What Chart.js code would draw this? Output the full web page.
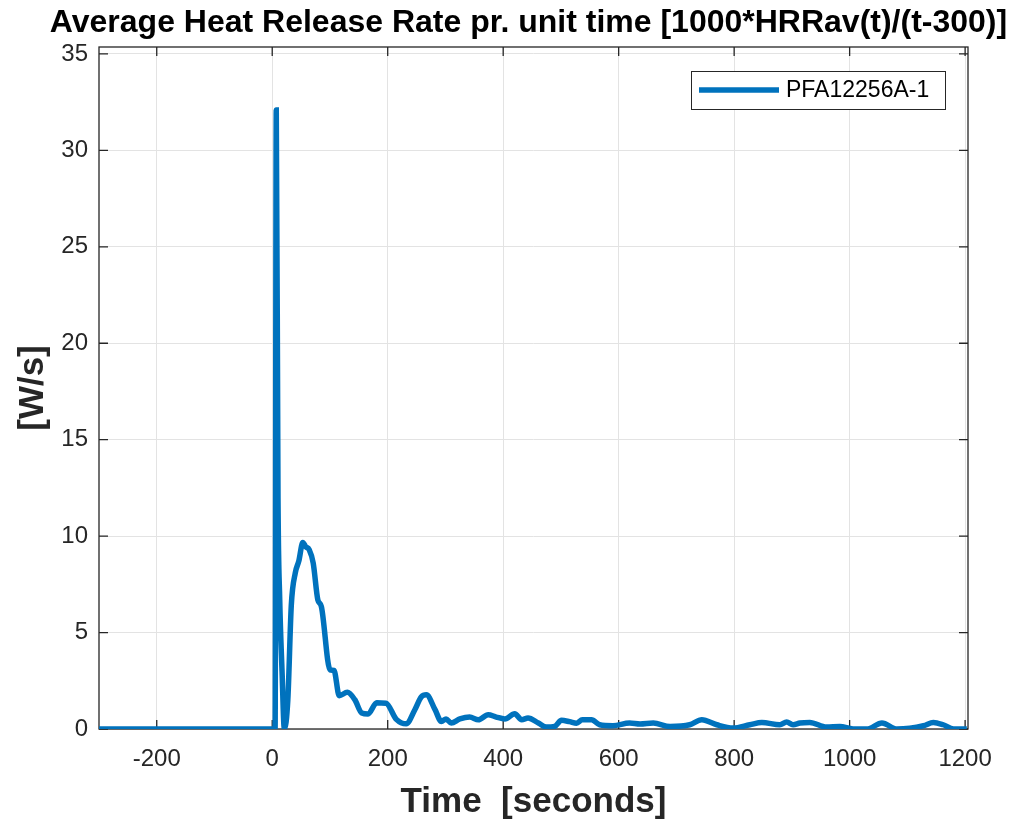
<!DOCTYPE html>
<html>
<head>
<meta charset="utf-8">
<title>Average Heat Release Rate</title>
<script src="https://cdn.jsdelivr.net/npm/chart.js@4.4.1/dist/chart.umd.min.js"></script>
<style>
  html, body { margin: 0; padding: 0; background: #fff; }
  #wrap { position: relative; width: 1014px; height: 824px; }
</style>
</head>
<body>
<div id="wrap"><canvas id="hrrChart"></canvas></div>
<script>
const chartTitle = 'Average Heat Release Rate pr. unit time [1000*HRRav(t)/(t-300)]'
const seriesLabel = 'PFA12256A-1'

// time [s] and HRR per unit time [W/s]
const timeSec = [
  -300, 5, 7, 10, 13, 17, 21, 27, 33, 40, 46, 53, 58, 64, 71, 79, 85, 100, 107, 116,
  130, 143, 155, 166, 181, 197, 215, 232, 247, 258, 267, 282, 293, 301, 310, 325,
  342, 357, 374, 388, 403, 420, 432, 443, 461, 475, 489, 501, 515, 527, 537, 553,
  567, 590, 619, 637, 660, 689, 723, 744, 770, 798, 827, 848, 879, 891, 902, 914,
  931, 960, 983, 1006, 1030, 1056, 1082, 1128, 1145, 1162, 1180, 1203
]
const hrrRate = [
  0, 0, 32.1, 12.0, 6.7, 3.0, 0, 1.5, 6.4, 8.1, 8.7, 9.67, 9.45, 9.3, 8.6, 6.7, 6.36, 3.07, 3.04, 1.73,
  1.9, 1.52, 0.83, 0.78, 1.36, 1.34, 0.5, 0.27, 1.0, 1.66, 1.78, 1.0, 0.39, 0.52, 0.31, 0.52,
  0.62, 0.48, 0.74, 0.62, 0.52, 0.79, 0.48, 0.57, 0.31, 0.1, 0.13, 0.45, 0.38, 0.3, 0.48, 0.48,
  0.22, 0.17, 0.31, 0.26, 0.31, 0.13, 0.22, 0.48, 0.22, 0.05, 0.22, 0.34, 0.22, 0.36, 0.22, 0.31,
  0.34, 0.1, 0.13, 0, 0, 0.31, 0, 0.17, 0.34, 0.22, 0, 0
]

const xTicks = [-200, 0, 200, 400, 600, 800, 1000, 1200]
const yTicks = [0, 5, 10, 15, 20, 25, 30, 35]

const axisColor = '#262626'
const lineColor = '#0072BD'
const fontFamily = '"Liberation Sans", Arial, sans-serif'

// title over the axes, like a matlab figure
const axesTitle = {
  id: 'axesTitle',
  afterDraw(chart) {
    const { ctx, chartArea: { left, right } } = chart
    ctx.save()
    ctx.font = `bold 32px ${fontFamily}`
    ctx.fillStyle = '#000'
    ctx.textAlign = 'center'
    ctx.textBaseline = 'alphabetic'
    ctx.fillText(chartTitle, (left + right) / 2 - 5, 32)
    ctx.restore()
  }
}

// box round the plot with inward ticks on all four sides
const axesBox = {
  id: 'axesBox',
  beforeDatasetsDraw(chart) {
    const { ctx, chartArea: { left, right, top, bottom }, scales: { x, y } } = chart
    const len = 9
    ctx.save()
    ctx.strokeStyle = axisColor
    ctx.lineWidth = 1.3
    ctx.beginPath()
    x.ticks.forEach(t => {
      const px = x.getPixelForValue(t.value)
      ctx.moveTo(px, bottom)
      ctx.lineTo(px, bottom - len)
      ctx.moveTo(px, top)
      ctx.lineTo(px, top + len)
    })
    y.ticks.forEach(t => {
      const py = y.getPixelForValue(t.value)
      ctx.moveTo(left, py)
      ctx.lineTo(left + len, py)
      ctx.moveTo(right, py)
      ctx.lineTo(right - len, py)
    })
    ctx.stroke()
    ctx.strokeRect(left, top, right - left, bottom - top)
    ctx.restore()
  }
}

// boxed legend in the upper right corner
const boxLegend = {
  id: 'boxLegend',
  afterDatasetsDraw(chart) {
    const { ctx, chartArea: { right, top } } = chart
    const ds = chart.data.datasets[0]
    const w = 254, h = 38
    const bx = right - 23 - w, by = top + 24
    ctx.save()
    ctx.fillStyle = '#fff'
    ctx.fillRect(bx, by, w, h)
    ctx.strokeStyle = axisColor
    ctx.lineWidth = 1
    ctx.strokeRect(bx + 0.5, by + 0.5, w, h)
    ctx.strokeStyle = ds.borderColor
    ctx.lineWidth = ds.borderWidth
    ctx.beginPath()
    ctx.moveTo(bx + 8, by + h / 2)
    ctx.lineTo(bx + 88, by + h / 2)
    ctx.stroke()
    ctx.fillStyle = '#000'
    ctx.font = `23px ${fontFamily}`
    ctx.textBaseline = 'middle'
    ctx.fillText(ds.label, bx + 95, by + h / 2 + 1)
    ctx.restore()
  }
}

const ctx = document.getElementById('hrrChart').getContext('2d')

new Chart(ctx, {
  type: 'line',
  data: {
    datasets: [{
      label: seriesLabel,
      data: timeSec.map((t, i) => ({ x: t, y: hrrRate[i] })),
      borderColor: lineColor,
      borderWidth: 5.5,
      pointRadius: 0,
      cubicInterpolationMode: 'monotone',
      fill: false
    }]
  },
  options: {
    responsive: true,
    maintainAspectRatio: false,
    animation: false,
    layout: {
      padding: { top: 47, right: 46, left: 0, bottom: 0 }
    },
    plugins: {
      legend: { display: false },
      title: { display: false },
      tooltip: { enabled: false }
    },
    scales: {
      x: {
        type: 'linear',
        min: -300,
        max: 1205,
        afterBuildTicks: scale => { scale.ticks = xTicks.map(v => ({ value: v })) },
        afterFit: scale => { scale.height = 95 },
        grid: { color: '#e3e3e3', drawTicks: false },
        border: { display: false },
        ticks: {
          color: axisColor,
          padding: 16,
          maxRotation: 0,
          callback: v => String(v),
          font: { family: fontFamily, size: 24 }
        },
        title: {
          display: true,
          text: 'Time  [seconds]',
          color: axisColor,
          padding: { top: 0 },
          font: { family: fontFamily, size: 35, weight: 'bold', lineHeight: 1 }
        }
      },
      y: {
        min: 0,
        max: 35.36,
        afterBuildTicks: scale => { scale.ticks = yTicks.map(v => ({ value: v })) },
        afterFit: scale => { scale.width = 99 },
        grid: { color: '#e3e3e3', drawTicks: false },
        border: { display: false },
        ticks: {
          color: axisColor,
          padding: 11,
          callback: v => String(v),
          font: { family: fontFamily, size: 24 }
        },
        title: {
          display: true,
          text: '[W/s]',
          color: axisColor,
          padding: { top: 12 },
          font: { family: fontFamily, size: 35, weight: 'bold' }
        }
      }
    }
  },
  plugins: [axesBox, boxLegend, axesTitle]
})
</script>
</body>
</html>
